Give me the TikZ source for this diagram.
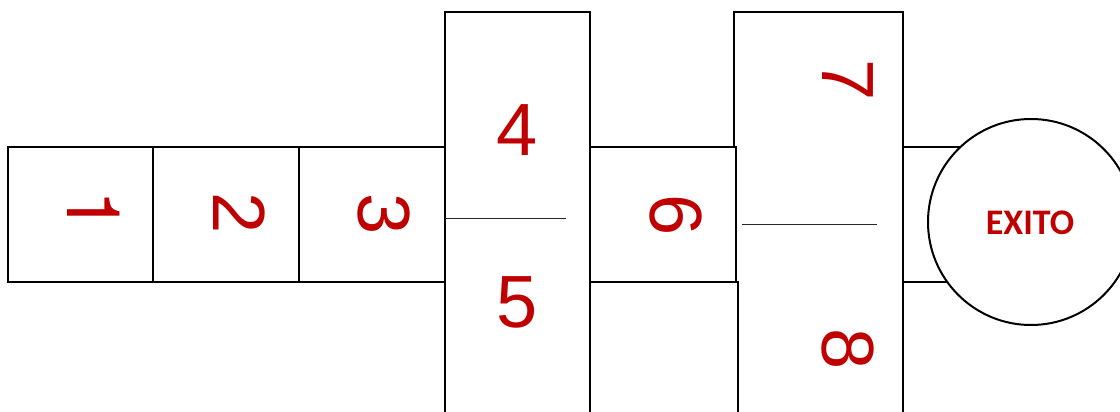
\documentclass[tikz,border=0pt]{standalone}
\usepackage{fontspec}
\newfontfamily\digitfont{Liberation Sans}
\newfontfamily\onefont{TeX Gyre Heros}
\newfontfamily\exitofont{Carlito}
\definecolor{numred}{HTML}{C00000}
\begin{document}
\begin{tikzpicture}[x=1pt,y=-1pt,
  boxline/.style={line width=2pt,black,line join=miter},
  divider/.style={line width=1pt,black!85},
  digit/.style={text=numred,font=\digitfont\fontsize{74}{74}\selectfont,inner sep=0pt},
  exitotext/.style={text=numred,font=\exitofont\bfseries\fontsize{36}{36}\selectfont,inner sep=0pt}]
\useasboundingbox (0,0) rectangle (1120,412);
\clip (0,0) rectangle (1120,412);
\fill[white] (0,0) rectangle (1120,412);
% boxes 1-3
\draw[boxline] (8,147) rectangle (445,282);
\draw[boxline] (153,147) -- (153,282);
\draw[boxline] (299,147) -- (299,282);
% box 4/5
\draw[boxline] (445,420) -- (445,12) -- (590,12) -- (590,420);
\draw[divider] (445,218) -- (566,218);
% box 6
\draw[boxline] (590,147) -- (736,147) -- (736,282);
\draw[boxline] (590,282) -- (738,282) -- (738,420);
% box 7/8
\draw[boxline] (734,147) -- (734,12) -- (903,12) -- (903,420);
\draw[divider] (742,224) -- (877,224);
% box before exit
\draw[boxline] (903,147) -- (980,147);
\draw[boxline] (903,282) -- (980,282);
% exit circle
\node[circle,draw=black,line width=2pt,fill=white,minimum size=206pt,inner sep=0pt] (exit) at (1031,222) {};
\node[exitotext] (exitlabel) at (1030,223) {EXITO};
% digits
\node[digit,font=\onefont\fontsize{74}{74}\selectfont,rotate=-90] (d1) at (94,211) {1};
\node[digit,rotate=-90] (d2) at (239,213) {2};
\node[digit,rotate=-90] (d3) at (384,214) {3};
\node[digit] (d4) at (517,130) {4};
\node[digit] (d5) at (517,302) {5};
\node[digit,rotate=-90] (d6) at (676,215) {6};
\node[digit,rotate=-90] (d7) at (848,80) {7};
\node[digit,rotate=-90] (d8) at (848,349) {8};
\end{tikzpicture}
\end{document}
